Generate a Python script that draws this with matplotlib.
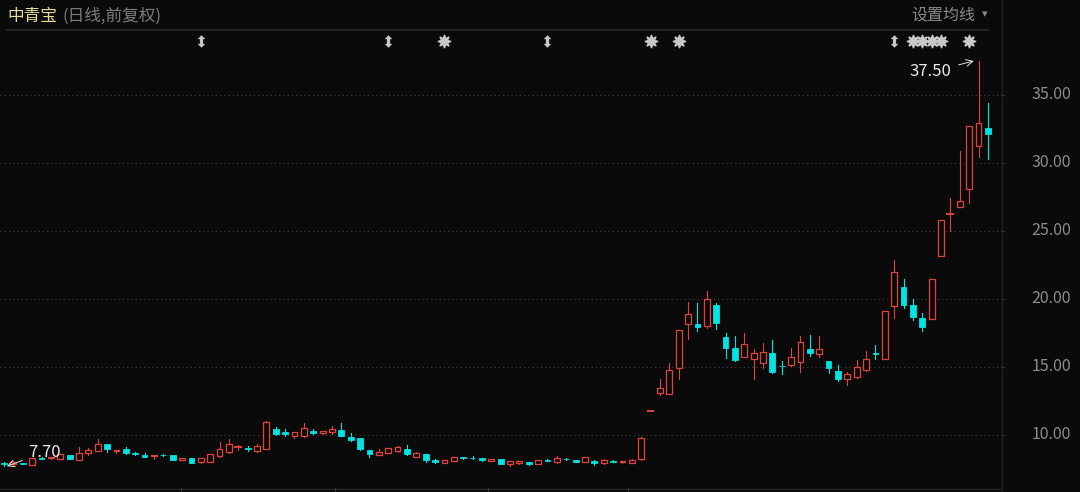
import matplotlib
matplotlib.use('Agg')
import matplotlib.pyplot as plt
from matplotlib.patches import Rectangle
from matplotlib.lines import Line2D
from matplotlib.path import Path
import matplotlib.transforms as mtransforms

plt.rcParams['font.family'] = ['Noto Sans CJK SC', 'DejaVu Sans']

# daily candles, 中青宝 (前复权)
opens = [7.95, 7.88, 7.93, 7.80, 8.31, 8.27, 8.21, 8.53, 8.16, 8.66,
         8.85, 9.32, 8.83, 8.95, 8.70, 8.53, 8.43, 8.52, 8.51, 8.14,
         8.31, 7.99, 8.04, 8.43, 8.78, 9.05, 9.05, 8.85, 9.00, 10.47,
         10.25, 9.95, 9.95, 10.30, 10.12, 10.20, 10.34, 9.83, 9.76, 8.90,
         8.56, 8.70, 8.85, 8.97, 8.41, 8.58, 8.19, 7.97, 8.11, 8.36,
         8.30, 8.31, 8.09, 8.24, 7.85, 7.92, 7.99, 7.87, 8.19, 7.99,
         8.26, 8.16, 8.04, 8.11, 7.92, 8.11, 7.99, 7.97, 8.21, 11.77,
         13.12, 12.99, 14.90, 18.14, 18.16, 18.04, 19.53, 17.18, 16.40, 15.76,
         15.57, 15.27, 16.01, 15.10, 15.15, 15.35, 16.30, 15.96, 15.47, 14.73,
         14.10, 14.29, 14.78, 15.99, 15.61, 19.49, 20.91, 19.57, 18.63, 18.51,
         23.17, 26.25, 26.79, 28.09, 31.25, 32.60]
highs = [7.98, 8.05, 7.97, 8.31, 8.36, 8.40, 8.62, 8.56, 9.09, 9.02,
         9.71, 9.34, 8.92, 9.09, 8.78, 8.66, 8.52, 8.58, 8.53, 8.30,
         8.33, 8.34, 8.60, 9.51, 9.71, 9.27, 9.22, 9.32, 11.00, 10.61,
         10.42, 10.25, 10.86, 10.44, 10.29, 10.66, 10.86, 10.12, 9.78, 8.92,
         8.95, 9.05, 9.19, 9.27, 8.78, 8.60, 8.24, 8.19, 8.38, 8.38,
         8.46, 8.33, 8.24, 8.26, 8.09, 8.09, 8.02, 8.18, 8.24, 8.46,
         8.34, 8.18, 8.41, 8.14, 8.21, 8.14, 8.12, 8.24, 9.84, 11.77,
         14.10, 15.27, 17.72, 19.80, 19.68, 20.59, 19.73, 17.53, 17.31, 17.53,
         16.33, 16.79, 16.99, 15.44, 16.38, 17.31, 17.35, 17.31, 15.47, 15.15,
         14.66, 15.52, 16.18, 16.62, 19.12, 22.87, 21.45, 19.98, 18.95, 21.50,
         25.77, 27.41, 30.88, 32.72, 37.50, 34.44]
lows = [7.70, 7.80, 7.84, 7.80, 8.20, 8.24, 8.20, 8.22, 8.14, 8.53,
        8.83, 8.78, 8.70, 8.61, 8.51, 8.36, 8.24, 8.43, 8.18, 8.13,
        7.95, 7.97, 8.02, 8.41, 8.66, 8.90, 8.85, 8.78, 8.98, 10.03,
        9.93, 9.81, 9.83, 10.07, 10.05, 10.05, 9.90, 9.56, 8.90, 8.41,
        8.53, 8.68, 8.78, 8.51, 8.36, 8.02, 7.97, 7.95, 8.09, 8.24,
        8.22, 8.11, 8.06, 7.85, 7.72, 7.90, 7.82, 7.85, 8.06, 7.97,
        8.16, 8.02, 8.02, 7.77, 7.90, 8.00, 7.97, 7.95, 8.19, 11.77,
        12.94, 12.99, 14.10, 17.04, 17.65, 17.89, 17.82, 15.64, 15.44, 15.76,
        14.10, 14.95, 14.54, 14.46, 15.08, 14.66, 15.81, 15.76, 14.54, 14.00,
        13.68, 14.22, 14.73, 15.59, 15.61, 18.59, 19.32, 18.46, 17.68, 18.51,
        23.17, 25.03, 26.79, 27.04, 30.47, 30.27]
closes = [7.90, 8.02, 7.87, 8.29, 8.24, 8.36, 8.58, 8.24, 8.66, 8.90,
          9.32, 8.95, 8.90, 8.70, 8.63, 8.41, 8.50, 8.49, 8.19, 8.29,
          7.97, 8.31, 8.58, 8.95, 9.32, 9.09, 8.97, 9.19, 10.98, 10.10,
          10.05, 10.22, 10.54, 10.17, 10.27, 10.47, 9.95, 9.64, 8.97, 8.61,
          8.78, 9.02, 9.12, 8.58, 8.66, 8.16, 8.04, 8.16, 8.36, 8.29,
          8.27, 8.16, 8.21, 7.87, 8.07, 8.07, 7.87, 8.16, 8.09, 8.29,
          8.22, 8.04, 8.38, 7.97, 8.16, 8.04, 8.09, 8.16, 9.81, 11.77,
          13.48, 14.78, 17.72, 18.87, 17.92, 19.98, 18.21, 16.37, 15.52, 16.69,
          16.06, 16.11, 14.61, 15.05, 15.76, 16.82, 16.06, 16.30, 14.90, 14.12,
          14.46, 14.98, 15.57, 15.96, 19.12, 21.97, 19.57, 18.71, 17.92, 21.50,
          25.77, 26.27, 27.23, 32.72, 32.92, 32.11]

price_ticks = [10, 15, 20, 25, 30, 35]
swap_days = [21, 41, 58, 95]                    # ⇕ markers
star_days = [47, 69, 72, 97, 98, 99, 100, 103]  # ✱ markers

BG = '#0a0a0a'
RED = '#e0433f'
CYAN = '#00e4e4'
W, H = 1080, 492

fig = plt.figure(figsize=(W / 100, H / 100), dpi=100, facecolor=BG)
ax = fig.add_axes([0, 4 / H, 1001 / W, 459 / H])
ax.set_facecolor(BG)
ax.set_xlim(-0.43, 106.4)
ax.set_ylim(6.10, 39.85)
ax.axis('off')

# dotted grid
for p in price_ticks:
    ax.axhline(p, color='#3a3a3a', lw=0.8, ls=(0, (1.2, 2.6)), zorder=0)

bw = 0.62
for i, (o, h, l, c) in enumerate(zip(opens, highs, lows, closes)):
    top, bot = max(o, c), min(o, c)
    if c >= o:
        if h > top:
            ax.plot([i, i], [top, h], color=RED, lw=0.8, zorder=2)
        if l < bot:
            ax.plot([i, i], [l, bot], color=RED, lw=0.8, zorder=2)
        if top - bot < 0.05:
            ax.plot([i - bw / 2, i + bw / 2], [top, top], color=RED, lw=1.4, zorder=3)
        else:
            ax.add_patch(Rectangle((i - bw / 2, bot), bw, top - bot,
                                   facecolor=BG, edgecolor=RED, lw=0.9, zorder=3))
    else:
        ax.plot([i, i], [l, h], color=CYAN, lw=0.8, zorder=2)
        hgt = max(top - bot, 0.04)
        ax.add_patch(Rectangle((i - bw / 2, bot), bw, hgt,
                               facecolor=CYAN, edgecolor=CYAN, lw=0.6, zorder=3))

# max / min labels
imax = highs.index(max(highs))
imin = lows.index(min(lows))
ax.annotate(f'{highs[imax]:.2f}', xy=(imax - 0.5, highs[imax]),
            xytext=(-22, -11), textcoords='offset pixels', ha='right', va='center',
            color='#e8e8e8', fontsize=12,
            arrowprops=dict(arrowstyle='->', color='#e0e0e0', lw=0.7,
                            shrinkA=3, shrinkB=0))
ax.annotate(f'{lows[imin]:.2f}', xy=(imin + 0.3, lows[imin]),
            xytext=(21, 14), textcoords='offset pixels', ha='left', va='center',
            color='#e8e8e8', fontsize=12,
            arrowprops=dict(arrowstyle='->', color='#e0e0e0', lw=0.7,
                            shrinkA=2, shrinkB=0))

# event markers at the top
blend = mtransforms.blended_transform_factory(ax.transData, ax.transAxes)
ymark = (488 - 41) / 459
updown = Path([(0, 1), (0.62, 0.38), (0.26, 0.38), (0.26, -0.38), (0.62, -0.38),
               (0, -1), (-0.62, -0.38), (-0.26, -0.38), (-0.26, 0.38), (-0.62, 0.38),
               (0, 1)])
ax.plot(swap_days, [ymark] * len(swap_days), transform=blend, ls='none',
        marker=updown, ms=9, color='#c8c8c8', mec='none', clip_on=False)
ax.plot(star_days, [ymark] * len(star_days), transform=blend, ls='none',
        marker=(8, 1, 0), ms=9.5, color='#c8c8c8', mec='#c8c8c8', mew=0.9,
        clip_on=False)
ax.plot(star_days, [ymark] * len(star_days), transform=blend, ls='none',
        marker='o', ms=5, color='#c8c8c8', mec='none', clip_on=False)

# right price axis
rblend = mtransforms.blended_transform_factory(ax.transAxes, ax.transData)
for p in price_ticks:
    ax.text(1071 / 1001, p, f'{p:.2f}', transform=rblend, ha='right', va='center',
            color='#8c8c8c', fontsize=11.5, clip_on=False)
    ax.plot([1.0, 1004 / 1001], [p, p], transform=rblend, color='#3a3a3a',
            lw=0.8, clip_on=False)

# frame lines
fig.add_artist(Line2D([7 / W, 988 / W], [1 - 29.5 / H] * 2, color='#2a2a2a', lw=1.2))
fig.add_artist(Line2D([0, 1001 / W], [1 - 488.5 / H] * 2, color='#262626', lw=1.0))
fig.add_artist(Line2D([1001.5 / W] * 2, [0, 1], color='#1e1e1e', lw=1.0))
for xb in [181, 335, 488, 628]:
    fig.add_artist(Line2D([xb / W] * 2, [0, 1 - 488 / H], color='#333333', lw=0.8))

# header
fig.text(7 / W, 1 - 16 / H, '中青宝', color='#e4dc98', fontsize=12, va='center')
fig.text(62 / W, 1 - 16 / H, '(日线,前复权)', color='#7c7c7c', fontsize=12, va='center')
fig.text(975 / W, 1 - 15 / H, '设置均线', color='#8a8a8a', fontsize=11.5,
         va='center', ha='right')
fig.text(985 / W, 1 - 14 / H, '▾', color='#8a8a8a', fontsize=8, va='center', ha='center')

fig.savefig('out.png', dpi=100, facecolor=BG)
